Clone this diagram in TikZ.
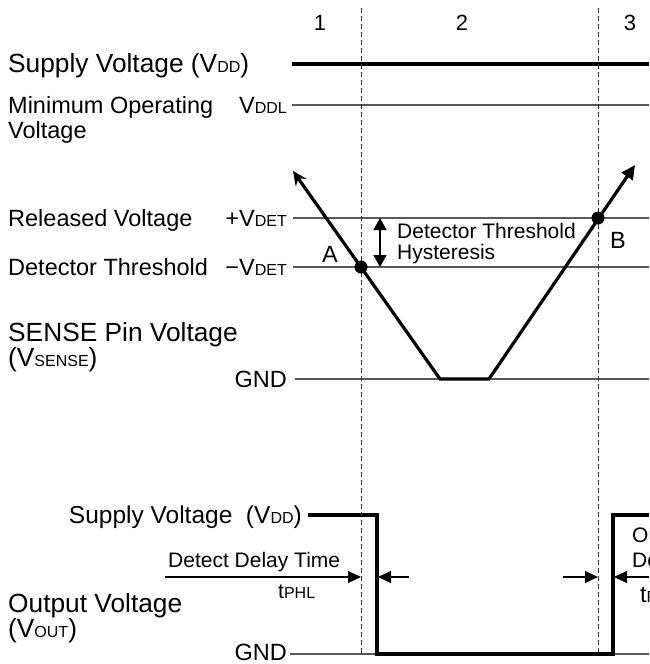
\documentclass[tikz,border=0pt]{standalone}
\usepackage{fontspec}
\setmainfont{Liberation Sans}
\usetikzlibrary{arrows.meta,positioning}
\newcommand\sm[1]{{\fontsize{16}{16}\selectfont #1}}
\tikzset{
  titlelbl/.style={font=\fontsize{26.3}{25}\selectfont,inner sep=0pt},
  mainlbl/.style={font=\fontsize{23.5}{25}\selectfont,inner sep=0pt},
  smalllbl/.style={font=\fontsize{21}{21}\selectfont,inner sep=0pt},
  numlbl/.style={font=\fontsize{22}{22}\selectfont,inner sep=0pt},
  lvl/.style={line width=1.4pt,draw=black!65},
  sig/.style={line width=3.2pt,draw=black},
  guide/.style={line width=0.9pt,draw=black!80,dash pattern=on 5pt off 3pt},
  tarr/.style={-{Triangle[length=13pt,width=12pt]},line width=1.2pt},
  dot/.style={circle,fill=black,inner sep=0pt,minimum size=13pt}
}
\begin{document}
\begin{tikzpicture}[x=1pt,y=-1pt]
  \useasboundingbox (0,0) rectangle (649,664);
  \clip (0,0) rectangle (649,664);

  % left labels
  \node[titlelbl,anchor=base west] (vdd) at (8,72) {Supply Voltage (V\sm{DD})};
  \node[mainlbl,anchor=base west] (minop) at (8,113) {Minimum Operating};
  \node[mainlbl,anchor=base west] (minop2) at (8,138) {Voltage};
  \node[mainlbl,anchor=base west] (rel) at (8,226) {Released Voltage};
  \node[mainlbl,anchor=base west] (det) at (8,275) {Detector Threshold};
  \node[titlelbl,anchor=base west] (sense) at (8,341) {SENSE Pin Voltage};
  \node[titlelbl,anchor=base west] (sense2) at (8,366) {(V\sm{SENSE})};
  \node[titlelbl,anchor=base west] (vout) at (8,612) {Output Voltage};
  \node[titlelbl,anchor=base west] (vout2) at (8,637) {(V\sm{OUT})};

  % level names
  \node[mainlbl,anchor=base east] (vddl) at (287,113) {V\sm{DDL}};
  \node[mainlbl,anchor=base east] (pdet) at (287,226) {+V\sm{DET}};
  \node[mainlbl,anchor=base east] (mdet) at (287,275) {\char"2212V\sm{DET}};
  \node[mainlbl,anchor=base east] (gnd) at (287,387) {GND};
  \node[mainlbl,font=\fontsize{24.5}{25}\selectfont,anchor=base east] (ovdd) at (302,523) {Supply Voltage\ \ (V\sm{DD})};
  \node[mainlbl,anchor=base east] (ognd) at (287,660) {GND};

  % level lines
  \draw[lvl] (292,105) -- (649,105);
  \draw[lvl] (293,218) -- (649,218);
  \draw[lvl] (293,267) -- (649,267);
  \draw[lvl] (295,379) -- (649,379);
  \draw[lvl] (290,654) -- (649,654);
  \draw[sig] (292,64) -- (649,64);

  % region guides
  \coordinate (g1t) at (361,8);
  \coordinate (g1b) at (361,654);
  \coordinate (g2t) at (598,8);
  \coordinate (g2b) at (598,654);
  \draw[guide] (g1t) -- (g1b);
  \draw[guide] (g2t) -- (g2b);
  \node[numlbl,anchor=base] (r1) at (320,30) {1};
  \node[numlbl,anchor=base] (r2) at (462,30) {2};
  \node[numlbl,anchor=base] (r3) at (630,30) {3};

  % sense voltage
  \coordinate (vs) at (293,171);
  \coordinate (vb1) at (440,379);
  \coordinate (vb2) at (489,379);
  \coordinate (ve) at (635,165);
  \draw[sig,{Stealth[length=14pt,width=13pt]}-{Triangle[length=14pt,width=13pt]}]
    (vs) -- (vb1) -- (vb2) -- (ve);
  \node[dot] (ptA) at (361,267) {};
  \node[dot] (ptB) at (598,218) {};
  \node[mainlbl] (lA) at (330,254) {A};
  \node[mainlbl] (lB) at (618,240) {B};

  % hysteresis
  \coordinate (hyt) at (380,218);
  \coordinate (hyb) at (380,267);
  \draw[line width=1.3pt,{Triangle[length=12pt,width=13pt]}-{Triangle[length=12pt,width=13pt]}] (hyt) -- (hyb);
  \node[smalllbl,anchor=base west] (hys) at (397,238) {Detector Threshold};
  \node[smalllbl,anchor=base west] (hys2) at (397,259) {Hysteresis};

  % output voltage
  \draw[sig] (308,515) -- (377,515) -- (377,654) -- (613,654) -- (613,515) -- (649,515);
  \coordinate (d1s) at (165,577);
  \coordinate (d1e) at (361,577);
  \coordinate (d2s) at (409,577);
  \coordinate (d2e) at (378,577);
  \coordinate (d3s) at (563,577);
  \coordinate (d3e) at (598,577);
  \coordinate (d4s) at (649,577);
  \coordinate (d4e) at (614,577);
  \draw[tarr] (d1s) -- (d1e);
  \draw[tarr] (d2s) -- (d2e);
  \draw[tarr] (d3s) -- (d3e);
  \draw[tarr] (d4s) -- (d4e);
  \node[smalllbl,anchor=base west] (ddt) at (168,567) {Detect Delay Time};
  \node[smalllbl,anchor=base west] (tphl) at (278,598) {t\sm{PHL}};
  \node[smalllbl,anchor=base west] (odt) at (632,542) {Output};
  \node[smalllbl,anchor=base west] (odt2) at (632,567) {Delay Time};
  \node[mainlbl,anchor=base west] (tplh) at (640,602) {t\sm{PLH}};
\end{tikzpicture}
\end{document}
